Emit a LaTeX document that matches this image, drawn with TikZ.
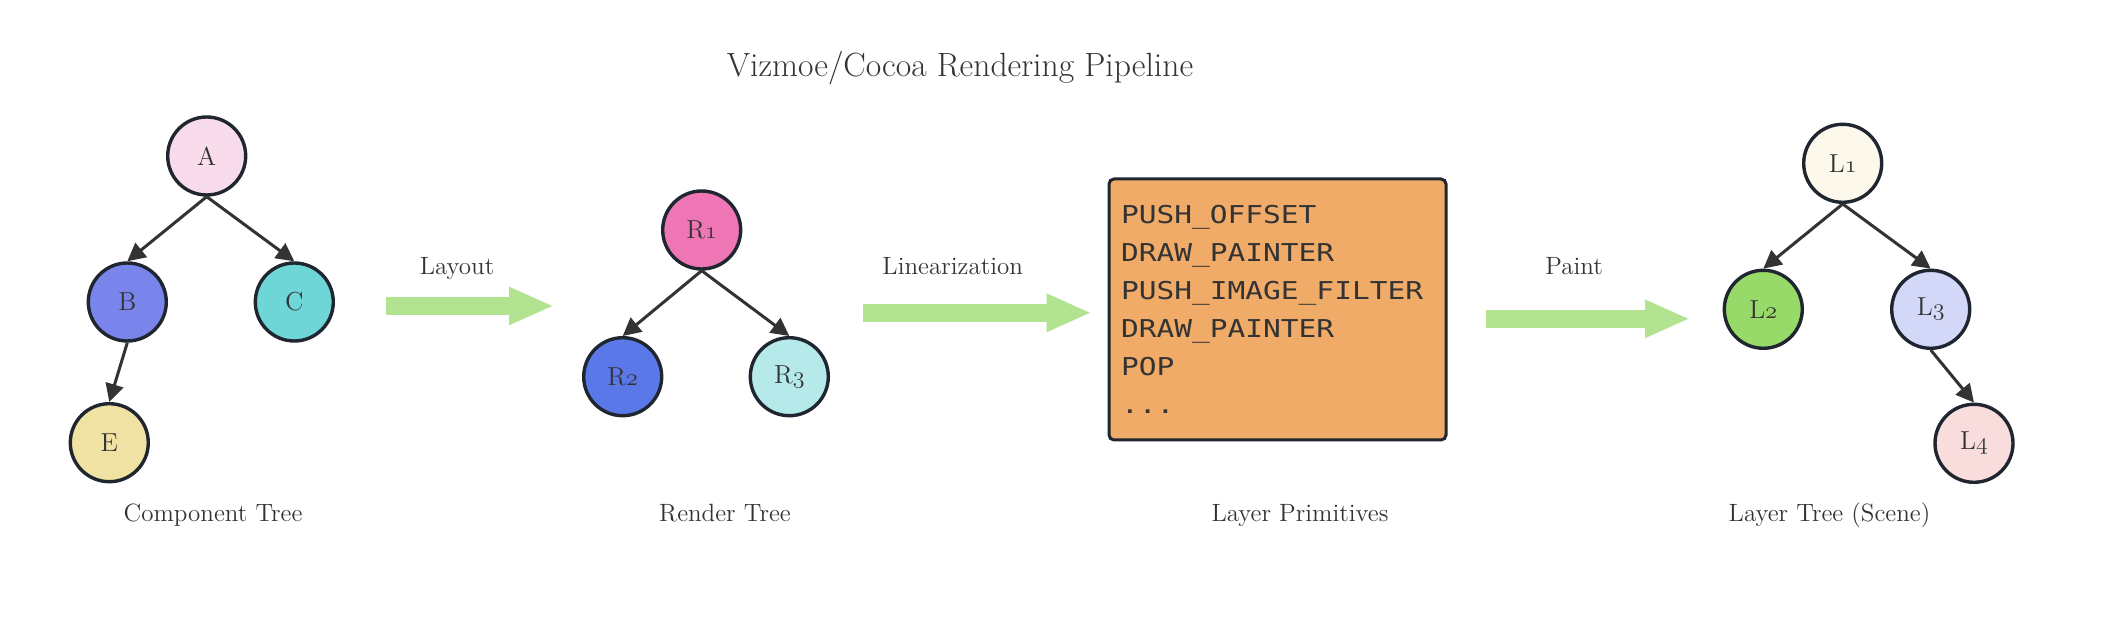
\documentclass[tikz,border=0pt]{standalone}
\usepackage{xcolor}
\usepackage{fontspec}
\usepackage{tikz}
\usetikzlibrary{shapes.geometric, arrows, arrows.meta}
\newfontfamily\opsfont[FakeStretch=1.2]{DejaVu Sans Mono}
\newcommand{\osn}[1]{{\fontencoding{OML}\fontfamily{cmm}\fontseries{m}\fontshape{it}\selectfont #1}}
\definecolor{ink}{HTML}{333333}
\definecolor{rim}{HTML}{1F2630}
\definecolor{flowgreen}{HTML}{B1E391}
\definecolor{boxorange}{HTML}{F0AB69}
\tikzstyle{tnode} = [circle, draw=rim, line width=1.7pt, minimum size=39pt, inner sep=0pt, text=ink, font=\fontsize{13}{15}\selectfont]
\tikzstyle{link} = [line width=1.5pt, draw=ink, -{Triangle[length=9pt,width=9pt]}]
\tikzstyle{flow} = [line width=8.75pt, draw=flowgreen, -{Triangle[length=22.5pt,width=17.5pt]}]
\tikzstyle{lbl} = [text=ink, anchor=base, font=\fontsize{12.5}{15}\selectfont]
\tikzstyle{headline} = [text=ink, anchor=base, font=\fontsize{16.8}{20}\selectfont]

\begin{document}
\begin{tikzpicture}[x=0.5pt, y=-0.5pt]
        \useasboundingbox (0,0) rectangle (2111,641);
        \node[headline] (title) at (960,76.5) {Vizmoe/Cocoa Rendering Pipeline};

        % Component tree
        \node[tnode, fill={rgb,255:red,249;green,220;blue,235}] (a) at (206.7,156) {A};
        \node[tnode, fill={rgb,255:red,122;green,133;blue,236}] (b) at (127.3,302) {B};
        \node[tnode, fill={rgb,255:red,110;green,214;blue,215}] (c) at (294.3,302) {C};
        \node[tnode, fill={rgb,255:red,240;green,226;blue,162}] (e) at (109.3,442.7) {E};
        \draw[link] (a.south) -- (b.north);
        \draw[link] (a.south) -- (c.north);
        \draw[link] (b.south) -- (e.north);
        \node[lbl] (ctree) at (213,521.5) {Component Tree};

        % Render tree
        \node[tnode, fill={rgb,255:red,238;green,118;blue,180}] (r1) at (701.7,230) {R\osn{1}};
        \node[tnode, fill={rgb,255:red,91;green,120;blue,232}] (r2) at (622.7,376.7) {R\osn{2}};
        \node[tnode, fill={rgb,255:red,181;green,233;blue,234}] (r3) at (789.3,376.7) {R\osn{3}};
        \draw[link] (r1.south) -- (r2.north);
        \draw[link] (r1.south) -- (r3.north);
        \node[lbl] (rtree) at (725,521.5) {Render Tree};

        % Layer primitives
        \node[draw=rim, line width=1.5pt, fill=boxorange, rounded corners=2.5pt,
              minimum width=168.5pt, minimum height=130.5pt, text width=156.5pt,
              inner xsep=6pt, align=left, text=ink,
              font=\opsfont\fontsize{12.3}{19}\selectfont] (prims) at (1277.5,309.5)
              {PUSH\_OFFSET\\DRAW\_PAINTER\\PUSH\_IMAGE\_FILTER\\DRAW\_PAINTER\\POP\\...};
        \node[lbl] (plbl) at (1300,521.5) {Layer Primitives};

        % Layer tree
        \node[tnode, fill={rgb,255:red,252;green,248;blue,235}] (l1) at (1842.7,163.3) {L\osn{1}};
        \node[tnode, fill={rgb,255:red,151;green,218;blue,106}] (l2) at (1763.3,309.3) {L\osn{2}};
        \node[tnode, fill={rgb,255:red,211;green,215;blue,248}] (l3) at (1930.7,309.3) {L\osn{3}};
        \node[tnode, fill={rgb,255:red,249;green,220;blue,220}] (l4) at (1974,443.3) {L\osn{4}};
        \draw[link] (l1.south) -- (l2.north);
        \draw[link] (l1.south) -- (l3.north);
        \draw[link] (l3.south) -- (l4.north);
        \node[lbl] (ltree) at (1829.5,521.5) {Layer Tree (Scene)};

        % Stages
        \coordinate (lay0) at (386,306);
        \coordinate (lay1) at (554,306);
        \coordinate (lin0) at (862.7,312.8);
        \coordinate (lin1) at (1091.7,312.8);
        \coordinate (pnt0) at (1486,318.8);
        \coordinate (pnt1) at (1690,318.8);
        \draw[flow] (lay0) -- (lay1);
        \draw[flow] (lin0) -- (lin1);
        \draw[flow] (pnt0) -- (pnt1);
        \node[lbl] (laylbl) at (457,275) {Layout};
        \node[lbl] (linlbl) at (952.7,275) {Linearization};
        \node[lbl] (pntlbl) at (1574,275) {Paint};
\end{tikzpicture}
\end{document}
